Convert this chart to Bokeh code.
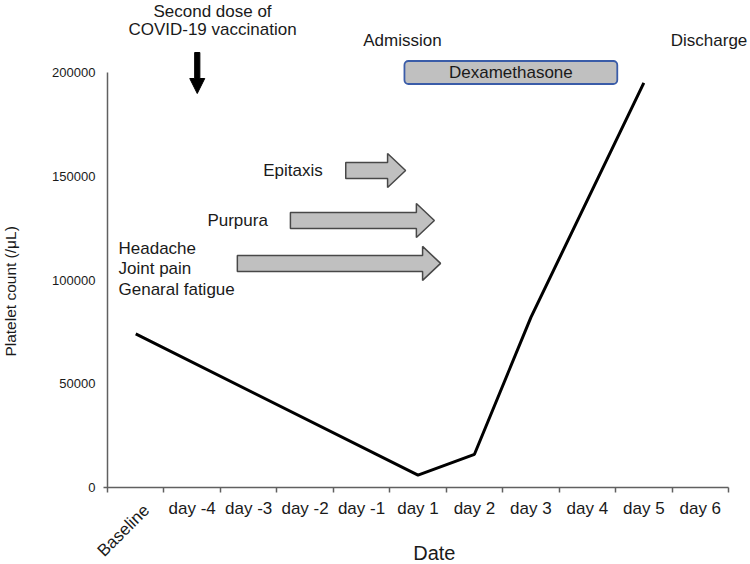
from bokeh.plotting import figure
from bokeh.models import Range1d, FixedTicker, Label, BoxAnnotation
from bokeh.embed import file_html
from bokeh.resources import INLINE

# ---------------- data ----------------
categories = ["Baseline", "day -4", "day -3", "day -2", "day -1",
              "day 1", "day 2", "day 3", "day 4", "day 5", "day 6"]
measured_days = ["Baseline", "day 1", "day 2", "day 3", "day 5"]
platelet_count = [74000, 6000, 16000, 82000, 195000]
y_ticks = [0, 50000, 100000, 150000, 200000]

# symptom periods (x in day-slot units, 0 = left edge of "Baseline")
symptom_names = ["Headache\nJoint pain\nGenaral fatigue", "Purpura", "Epitaxis"]
symptom_start = [2.30, 3.24, 4.22]
symptom_end = [5.90, 5.79, 5.28]
symptom_level = [108000, 128700, 152800]

# treatment period
treatment_name = "Dexamethasone"
treatment_start = 5.26
treatment_end = 9.03

# ---------------- geometry ----------------
W, H = 750, 564
n = len(categories)
XPX = n / 621.0            # data units per pixel (x)
YPX = 200000 / 415.0       # data units per pixel (y)
x_start = -107 * XPX
x_end = n + 22 * XPX
y_end = 200000 + 72 * YPX
y_start = -(H - 487) * YPX

FONT = "Liberation Sans"
TXT = "#1a1a1a"
AX = "#606060"

p = figure(width=W, height=H, x_range=Range1d(x_start, x_end),
           y_range=Range1d(y_start, y_end), output_backend="svg",
           toolbar_location=None, min_border=0)
p.outline_line_color = None
p.grid.visible = False
p.background_fill_color = "white"
p.border_fill_color = "white"

centers = [i + 0.5 for i in range(n)]
bounds_ticks = [float(i) for i in range(n + 1)]
x_of = {c: i + 0.5 for i, c in enumerate(categories)}

# y axis (fixed at x = 0)
ya = p.yaxis[0]
ya.fixed_location = 0
ya.bounds = (0, 200000)
ya.ticker = FixedTicker(ticks=y_ticks)
ya.major_tick_out = 0
ya.major_tick_in = 0
ya.minor_tick_out = 0
ya.minor_tick_in = 0
ya.axis_line_color = AX
ya.axis_line_width = 1.5
ya.major_label_text_font = FONT
ya.major_label_text_font_size = "13px"
ya.major_label_text_color = TXT
ya.major_label_standoff = 12
ya.formatter.use_scientific = False

# x axis (fixed at y = 0): labels at slot centres, tick marks at slot borders
xa = p.xaxis[0]
xa.fixed_location = 0
xa.bounds = (-4 * XPX, float(n))
xa.ticker = FixedTicker(ticks=centers, minor_ticks=bounds_ticks)
xa.axis_line_color = AX
xa.axis_line_width = 1.5
xa.major_tick_line_color = None
xa.major_tick_out = 5
xa.major_tick_in = 0
xa.minor_tick_line_color = AX
xa.minor_tick_line_width = 1.5
xa.minor_tick_out = 5
xa.minor_tick_in = 0
xa.major_label_text_font = FONT
xa.major_label_text_font_size = "17px"
xa.major_label_text_color = TXT
xa.major_label_standoff = 6
xa.major_label_overrides = {c: ("" if lab == "Baseline" else lab)
                            for c, lab in zip(centers, categories)}

# platelet line
p.line([x_of[d] for d in measured_days], platelet_count, line_color="black", line_width=3)

# symptom block arrows
body_h = 8 * YPX
head_h = 17 * YPX
head_l = 18 * XPX
xs, ys = [], []
for s, e, yc in zip(symptom_start, symptom_end, symptom_level):
    hb = e - head_l
    xs.append([s, hb, hb, e, hb, hb, s])
    ys.append([yc - body_h, yc - body_h, yc - head_h, yc, yc + head_h, yc + body_h, yc + body_h])
p.patches(xs, ys, fill_color="#c0c0c0", line_color="#484848", line_width=1.5)


def lbl(x, y, t, size="17px", align="center", angle=0.0, base="middle"):
    p.add_layout(Label(x=x, y=y, text=t, text_align=align, text_baseline=base,
                       text_font=FONT, text_font_size=size, text_color=TXT, angle=angle))


# symptom texts
lbl(symptom_start[2] - 23 * XPX, symptom_level[2], "Epitaxis", align="right")
lbl(symptom_start[1] - 83 * XPX, symptom_level[1], "Purpura", align="left")
for i, t in enumerate(symptom_names[0].split("\n")):
    lbl(0.195, symptom_level[0] + (15 - 20.5 * i) * YPX, t, align="left")

# Dexamethasone box
box_mid = 200000
p.add_layout(BoxAnnotation(left=treatment_start, right=treatment_end,
                           bottom=box_mid - 11.5 * YPX, top=box_mid + 11.5 * YPX,
                           fill_color="#c0c0c0", fill_alpha=1.0,
                           line_color="#3a5ca8", line_alpha=1.0, line_width=1.8,
                           border_radius=4))
lbl((treatment_start + treatment_end) / 2, box_mid, treatment_name)

# vaccination arrow (vertical, black)
vx = 1.59
v_top = 200000 + 20 * YPX
v_tip = 200000 - 21 * YPX
v_hb = v_tip + 15 * YPX
sw = 2.6 * XPX
hw = 7.5 * XPX
p.patch([vx - sw, vx + sw, vx + sw, vx + hw, vx, vx - hw, vx - sw],
        [v_top, v_top, v_hb, v_hb, v_tip, v_hb, v_hb],
        fill_color="black", line_color="black", line_width=1)

# top annotations
lbl(1.86, 200000 + 61 * YPX, "Second dose of")
lbl(1.86, 200000 + 43 * YPX, "COVID-19 vaccination")
lbl(5.225, 200000 + 32 * YPX, "Admission")
lbl(10.655, 200000 + 32 * YPX, "Discharge")

# rotated Baseline tick label
lbl(0.69, -20 * YPX, "Baseline", size="17px", align="right", angle=0.785398)

# axis titles
lbl(5.79, -65 * YPX, "Date", size="20px")
lbl(-1.72, 94500, "Platelet count (/\u03bcL)", size="15.5px", angle=1.570796)

open("out.html", "w").write(file_html(p, INLINE))
